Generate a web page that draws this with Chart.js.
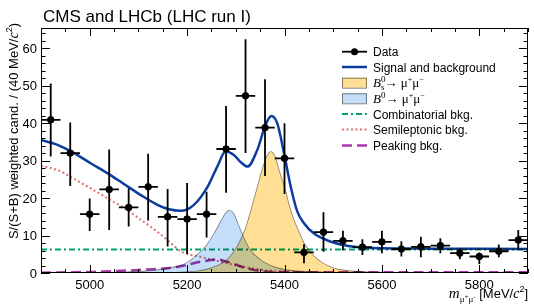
<!DOCTYPE html>
<html>
<head>
<meta charset="utf-8">
<script src="https://cdn.jsdelivr.net/npm/chart.js@4.4.0/dist/chart.umd.min.js"></script>
<style>
html, body { margin: 0; padding: 0; background: #fff; }
canvas { display: block; }
</style>
</head>
<body>
<canvas id="chart" width="534" height="308"></canvas>
<script>
// data points (40 MeV bins)
var binCenters = [4920, 4960, 5000, 5040, 5080, 5120, 5160, 5200, 5240, 5280, 5320, 5360, 5400,
                  5440, 5480, 5520, 5560, 5600, 5640, 5680, 5720, 5760, 5800, 5840, 5880];
var dataValues = [40.9, 32.0, 15.7, 22.3, 17.5, 23.0, 15.0, 14.4, 15.7, 33.1, 47.3, 38.8, 30.6,
                  5.5, 10.9, 8.6, 6.9, 8.3, 6.4, 7.0, 7.3, 5.3, 4.4, 5.8, 8.8];
var errHigh = [50.6, 40.2, 19.9, 33.0, 22.6, 31.8, 22.4, 24.0, 21.7, 44.6, 62.4, 51.7, 40.0,
               7.7, 16.2, 11.3, 9.0, 11.3, 8.5, 9.7, 9.3, 6.6, 5.5, 7.6, 11.5];
var errLow = [31.1, 23.2, 11.2, 11.5, 12.4, 14.0, 7.1, 5.1, 9.5, 21.4, 32.0, 25.9, 21.1,
              2.6, 5.7, 6.0, 4.8, 5.3, 4.4, 4.2, 5.3, 3.7, 2.4, 4.2, 6.4];
var binHalfWidth = 20;

// fit curves
var totalMass = [4900, 4934, 4968, 5002, 5037, 5071, 5105, 5139, 5163, 5187, 5214, 5242, 5262, 5279,
                 5296, 5310, 5324, 5344, 5361, 5373, 5385, 5399, 5412, 5426, 5440, 5460, 5494, 5528,
                 5562, 5600, 5700, 5800, 5900];
var totalValues = [35.5, 34.2, 32.0, 29.3, 26.6, 23.7, 20.8, 18.2, 17.0, 16.6, 18.2, 23.0, 28.4, 32.4,
                   31.5, 29.6, 28.4, 32.8, 39.5, 41.9, 40.0, 32.0, 23.5, 16.5, 13.3, 10.6, 8.4, 7.3,
                   6.8, 6.6, 6.5, 6.45, 6.4];

var bsMass = [4900, 5150, 5200, 5220, 5240, 5260, 5280, 5300, 5320, 5340, 5355, 5365, 5372, 5380,
              5390, 5400, 5410, 5420, 5430, 5440, 5460, 5480, 5500, 5520, 5550, 5600, 5700, 5900];
var bsValues = [0, 0.1, 0.3, 0.5, 1.0, 1.9, 3.3, 6.5, 12.0, 21.0, 28.0, 31.5, 32.4, 31.3,
                27.0, 23.0, 18.0, 14.0, 11.0, 8.0, 4.6, 2.6, 1.4, 0.8, 0.4, 0.15, 0.05, 0];

var b0Mass = [4900, 5050, 5100, 5150, 5180, 5200, 5220, 5240, 5255, 5270, 5280, 5287, 5295, 5310,
              5320, 5330, 5350, 5370, 5390, 5420, 5460, 5500, 5600, 5900];
var b0Values = [0, 0.2, 0.4, 1.0, 1.8, 2.8, 4.8, 7.5, 10.5, 14.0, 16.2, 16.7, 16.0, 11.4,
                8.5, 6.1, 3.6, 2.1, 1.2, 0.6, 0.3, 0.15, 0.05, 0];

var combMass = [4900, 5900];
var combValues = [6.3, 6.3];

var semiMass = [4900, 4941, 4968, 5002, 5037, 5071, 5105, 5139, 5163, 5187, 5228, 5269, 5310, 5351,
                5392, 5450, 5550, 5900];
var semiValues = [28.7, 27.1, 25.1, 22.6, 19.9, 17.3, 14.2, 11.0, 8.4, 5.8, 4.3, 3.0, 1.8, 0.9,
                  0.4, 0.2, 0.05, 0];

var peakMass = [4900, 4950, 5000, 5050, 5100, 5150, 5187, 5228, 5262, 5289, 5324, 5351, 5400, 5500, 5900];
var peakValues = [0.1, 0.2, 0.3, 0.5, 0.8, 1.2, 1.8, 3.0, 3.6, 2.7, 1.2, 0.5, 0.25, 0.2, 0.2];

var xTickLabels = [5000, 5200, 5400, 5600, 5800];
var yTickLabels = [0, 10, 20, 30, 40, 50, 60];

var SANS = '"Liberation Sans", Arial, Helvetica, sans-serif';
var SERIF = '"Liberation Serif", "Times New Roman", serif';

var colTotal = '#0b3d9e';
var colComb = '#00a070';
var colSemi = '#e27272';
var colPeak = '#a83aa8';
var colBs = '#ffdf94';
var colB0 = '#c4def8';

function toPoints(xs, ys) {
    var pts = [];
    for (var i = 0; i < xs.length; i++) pts.push({x: xs[i], y: ys[i]});
    return pts;
}

function curve(label, xs, ys, color, width, dash) {
    return {
        label: label, data: toPoints(xs, ys), showLine: true, pointRadius: 0,
        borderColor: color, borderWidth: width, borderDash: dash || [],
        cubicInterpolationMode: 'monotone', fill: false
    };
}

// draws text pieces one after another; 'stack' pieces don't advance x
function drawRuns(ctx, runs, x, y) {
    runs.forEach(function(r) {
        ctx.font = r.font;
        ctx.fillText(r.t, x, y + (r.dy || 0));
        if (!r.stack) x += ctx.measureText(r.t).width;
    });
    return x;
}

function runsWidth(ctx, runs) {
    var w = 0;
    runs.forEach(function(r) {
        ctx.font = r.font;
        if (!r.stack) w += ctx.measureText(r.t).width;
    });
    return w;
}

var rootStyle = {
    id: 'rootStyle',
    beforeDraw: function(chart) {
        var ctx = chart.ctx;
        ctx.save();
        ctx.fillStyle = '#fff';
        ctx.fillRect(0, 0, chart.width, chart.height);
        ctx.restore();
        // overlapping fills darken like in the original
        ctx.globalCompositeOperation = 'multiply';
    },
    afterDatasetsDraw: function(chart) {
        var ctx = chart.ctx, xs = chart.scales.x, ys = chart.scales.y;
        ctx.save();
        ctx.strokeStyle = '#000';
        ctx.lineWidth = 1.8;
        for (var i = 0; i < binCenters.length; i++) {
            var px = xs.getPixelForValue(binCenters[i]);
            var py = ys.getPixelForValue(dataValues[i]);
            ctx.beginPath();
            ctx.moveTo(xs.getPixelForValue(binCenters[i] - binHalfWidth), py);
            ctx.lineTo(xs.getPixelForValue(binCenters[i] + binHalfWidth), py);
            ctx.moveTo(px, ys.getPixelForValue(errHigh[i]));
            ctx.lineTo(px, ys.getPixelForValue(errLow[i]));
            ctx.stroke();
        }
        ctx.restore();
    },
    afterDraw: function(chart) {
        var ctx = chart.ctx, xs = chart.scales.x, ys = chart.scales.y, a = chart.chartArea;
        var v, p, tl;
        ctx.save();
        ctx.strokeStyle = '#000';
        ctx.lineWidth = 1;
        ctx.strokeRect(a.left + 0.5, a.top + 0.5, a.right - a.left - 1, a.bottom - a.top - 1);

        // inward ticks on all four sides
        ctx.beginPath();
        for (v = 4900; v <= 5900; v += 50) {
            p = Math.round(xs.getPixelForValue(v)) + 0.5;
            tl = (v % 200 === 0) ? 8 : 4;
            ctx.moveTo(p, a.bottom); ctx.lineTo(p, a.bottom - tl);
            ctx.moveTo(p, a.top); ctx.lineTo(p, a.top + tl);
        }
        for (v = 0; v <= 64; v += 2) {
            p = Math.round(ys.getPixelForValue(v)) + 0.5;
            tl = (v % 10 === 0) ? 9 : 4.5;
            ctx.moveTo(a.left, p); ctx.lineTo(a.left + tl, p);
            ctx.moveTo(a.right, p); ctx.lineTo(a.right - tl, p);
        }
        ctx.stroke();

        ctx.fillStyle = '#000';
        ctx.font = '13px ' + SANS;
        ctx.textAlign = 'center';
        ctx.textBaseline = 'alphabetic';
        xTickLabels.forEach(function(t) {
            ctx.fillText(String(t), xs.getPixelForValue(t), 289);
        });
        ctx.textAlign = 'right';
        ctx.textBaseline = 'middle';
        yTickLabels.forEach(function(t) {
            ctx.fillText(String(t), 37, ys.getPixelForValue(t) + 1);
        });

        // title
        ctx.textAlign = 'left';
        ctx.textBaseline = 'alphabetic';
        ctx.font = '17px ' + SANS;
        ctx.fillText('CMS and LHCb (LHC run I)', 43, 22);

        // x title
        var xRuns = [
            {t: 'm', font: 'italic 15px ' + SERIF},
            {t: 'μ', font: '9px ' + SERIF, dy: 4},
            {t: '+', font: '7px ' + SERIF, dy: 1},
            {t: 'μ', font: '9px ' + SERIF, dy: 4},
            {t: '-', font: '7px ' + SERIF, dy: 1},
            {t: ' [MeV/', font: '13px ' + SANS},
            {t: 'c', font: 'italic 14px ' + SERIF},
            {t: '2', font: '9px ' + SANS, dy: -6},
            {t: ']', font: '13px ' + SANS}
        ];
        drawRuns(ctx, xRuns, 528 - runsWidth(ctx, xRuns), 298);

        // y title
        var yRuns = [
            {t: 'S/(S+B) weighted cand. / (40 MeV/', font: '13px ' + SANS},
            {t: 'c', font: 'italic 14px ' + SERIF},
            {t: '2', font: '9px ' + SANS, dy: -6},
            {t: ')', font: '13px ' + SANS}
        ];
        var yw = runsWidth(ctx, yRuns);
        ctx.save();
        ctx.translate(18, 23 + yw);
        ctx.rotate(-Math.PI / 2);
        drawRuns(ctx, yRuns, 0, 0);
        ctx.restore();

        // legend
        var lx0 = 342, lx1 = 367, tx = 373;
        var rows = [51.7, 67, 82.7, 98.3, 114, 129.5, 145.5];
        ctx.font = '12px ' + SANS;
        ctx.fillStyle = '#000';

        ctx.lineWidth = 1.8;
        ctx.beginPath(); ctx.moveTo(lx0, rows[0]); ctx.lineTo(lx1, rows[0]); ctx.stroke();
        ctx.beginPath(); ctx.arc((lx0 + lx1) / 2, rows[0], 3.5, 0, Math.PI * 2); ctx.fill();
        ctx.fillText('Data', tx, rows[0] + 4.5);

        ctx.strokeStyle = colTotal; ctx.lineWidth = 2.5;
        ctx.beginPath(); ctx.moveTo(lx0, rows[1]); ctx.lineTo(lx1, rows[1]); ctx.stroke();
        ctx.fillText('Signal and background', tx, rows[1] + 4.5);

        [[colBs, rows[2]], [colB0, rows[3]]].forEach(function(b) {
            ctx.fillStyle = b[0];
            ctx.fillRect(lx0, b[1] - 5, lx1 - lx0, 10);
            ctx.strokeStyle = '#888'; ctx.lineWidth = 1;
            ctx.strokeRect(lx0 + 0.5, b[1] - 5 + 0.5, lx1 - lx0 - 1, 10);
        });
        ctx.fillStyle = '#000';
        var muPair = [
            {t: '→ μ', font: '13px ' + SERIF},
            {t: '+', font: '8px ' + SERIF, dy: -5},
            {t: 'μ', font: '13px ' + SERIF},
            {t: '−', font: '8px ' + SERIF, dy: -5}
        ];
        drawRuns(ctx, [
            {t: 'B', font: 'italic 13px ' + SERIF},
            {t: '0', font: '9px ' + SERIF, dy: -5, stack: true},
            {t: 's', font: '9px ' + SERIF, dy: 3}
        ].concat(muPair), tx, rows[2] + 4.5);
        drawRuns(ctx, [
            {t: 'B', font: 'italic 13px ' + SERIF},
            {t: '0', font: '9px ' + SERIF, dy: -5}
        ].concat(muPair), tx, rows[3] + 4.5);

        var styled = [
            [colComb, 2, [6, 3, 2, 3], 'Combinatorial bkg.', rows[4]],
            [colSemi, 2, [2, 2.5], 'Semileptonic bkg.', rows[5]],
            [colPeak, 2.5, [10, 5], 'Peaking bkg.', rows[6]]
        ];
        styled.forEach(function(s) {
            ctx.strokeStyle = s[0]; ctx.lineWidth = s[1]; ctx.setLineDash(s[2]);
            ctx.beginPath(); ctx.moveTo(lx0, s[4]); ctx.lineTo(lx1, s[4]); ctx.stroke();
            ctx.setLineDash([]);
            ctx.font = '12px ' + SANS;
            ctx.fillText(s[3], tx, s[4] + 4.5);
        });
        ctx.restore();
    }
};

var ctx = document.getElementById('chart').getContext('2d');
var chart = new Chart(ctx, {
    type: 'scatter',
    data: {
        datasets: [
            {label: 'Data', data: toPoints(binCenters, dataValues), pointRadius: 3.3,
             pointBackgroundColor: '#000', pointBorderColor: '#000', showLine: false},
            curve('Signal and background', totalMass, totalValues, colTotal, 2.5),
            curve('Combinatorial bkg.', combMass, combValues, colComb, 2, [6, 3, 2, 3]),
            curve('Semileptonic bkg.', semiMass, semiValues, colSemi, 2, [2, 2.5]),
            curve('Peaking bkg.', peakMass, peakValues, colPeak, 2.5, [10, 5]),
            {label: 'Bs', data: toPoints(bsMass, bsValues), showLine: true, pointRadius: 0,
             borderColor: '#8a8a8a', borderWidth: 0.8, backgroundColor: colBs,
             fill: 'origin', cubicInterpolationMode: 'monotone'},
            {label: 'B0', data: toPoints(b0Mass, b0Values), showLine: true, pointRadius: 0,
             borderColor: '#8a8a8a', borderWidth: 0.8, backgroundColor: colB0,
             fill: 'origin', cubicInterpolationMode: 'monotone'}
        ]
    },
    options: {
        responsive: false,
        animation: false,
        devicePixelRatio: 1,
        layout: {padding: {left: 0, top: 28, right: 6, bottom: 0}},
        plugins: {
            legend: {display: false},
            tooltip: {enabled: false},
            filler: {drawTime: 'beforeDatasetsDraw'}
        },
        scales: {
            x: {
                type: 'linear', min: 4900, max: 5900,
                grid: {display: false, drawTicks: false}, border: {display: false},
                ticks: {display: false},
                afterFit: function(s) { s.height = 35; }
            },
            y: {
                type: 'linear', min: 0, max: 65.4,
                grid: {display: false, drawTicks: false}, border: {display: false},
                ticks: {display: false},
                afterFit: function(s) { s.width = 41; }
            }
        }
    },
    plugins: [rootStyle]
});
</script>
</body>
</html>
